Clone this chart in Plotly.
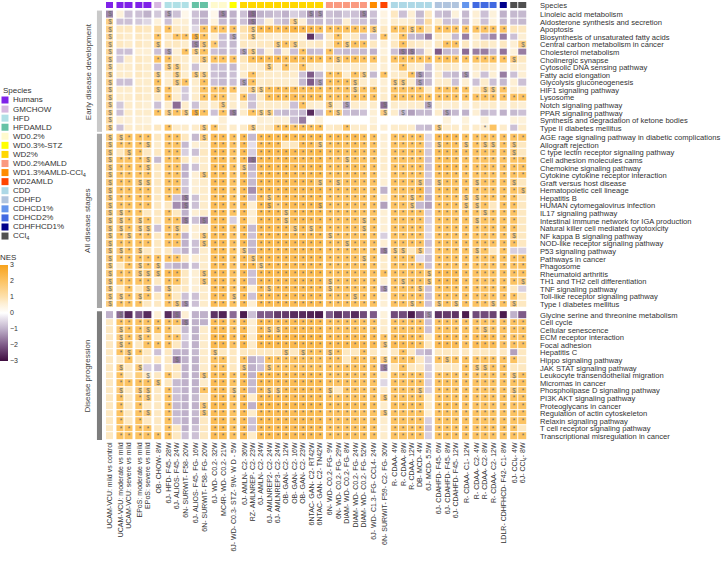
import plotly.graph_objects as go

# especies y sus colores
species = ["Humans", "GMCHOW", "HFD", "HFDAMLD", "WD0.2%", "WD0.3%-STZ", "WD2%", "WD0.2%AMLD",
           "WD1.3%AMLD-CCl<sub>4</sub>", "WD2AMLD", "CDD", "CDHFD", "CDHCD1%", "CDHCD2%",
           "CDHFHCD1%", "CCl<sub>4</sub>"]
species_colors = ["#7f22e8", "#d6b8e0", "#b0e0e6", "#66c2a5", "#fffacd", "#ffff00", "#ffd700",
                  "#fa9a80", "#ff8c00", "#ff4500", "#add8e6", "#b0c4de", "#6495ed", "#4169e1",
                  "#00008b", "#505050"]

# bloques de columnas (especie de cada bloque y cuantas columnas tiene)
group_species = [0, 0, 0, 1, 2, 3, 4, 5, 6, 7, 8, 9, 10, 11, 12, 13, 14, 15]
group_sizes = [1, 2, 2, 1, 3, 2, 2, 1, 10, 5, 1, 1, 5, 3, 1, 3, 1, 2]

columns = ["UCAM-VCU: mild vs control", "UCAM-VCU: moderate vs mild", "UCAM-VCU: severe vs mild",
           "EPoS: moderate vs mild", "EPoS: severe vs mild", "OB- CHOW- 8W",
           "6J- HFD- F45- 28W", "6J- ALIOS- F45- 24W", "6N- SURWIT- F58- 20W",
           "6J- ALIOS- F45- FG- 16W", "6N- SURWIT- F58- FG- 20W",
           "6J- WD- C0.2- 32W", "MC4R- WD- C0.2- 21W", "6J- WD- C0.3- STZ- 9W- W D - 5W",
           "6J- AMLN- C2- 36W", "RZ- AMLNREP- C2- 23W", "6J- AMLN- C2- 24W", "6J- AMLNREP2- C2- 24W",
           "6J- AMLNREP3- C2- 24W", "OB- GAN- C2- 12W", "OB- GAN- C2- 16W", "OB- GAN- C2- 23W",
           "6NTAC- GAN- C2- RT42W", "6NTAC- GAN- C2- TN42W",
           "6N- WD- C0.2- FG- 9W", "6N- WD- C0.2- FG- 29W", "DIAM- WD- C0.2- FG- 8W",
           "DIAM- WD- C0.2- FG- 24W", "DIAM- WD- C0.2- FG- 52W",
           "6J- WD- C1.3- FG- CCL4- 24W", "6N- SURWIT- F59- C2- FG- 30W",
           "R- CDAA- 4W", "R- CDAA- 8W", "R- CDAA- 12W", "DB- MCD- 4W", "6J- MCD- 5.5W",
           "6J- CDAHFD- F45- 6W", "6J- CDAHFD- F45- 8W", "6J- CDAHFD- F45- 12W",
           "R- CDAA- C1- 12W", "R- CDAA- C2- 4W", "R- CDAA- C2- 8W", "R- CDAA- C2- 12W",
           "LDLR- CDHFHCD- F42- C1- 8W", "6J- CCl<sub>4</sub>- 4W", "6J- CCl<sub>4</sub>- 8W"]

section_names = ["Early disease development", "All disease stages", "Disease progression"]
section_colors = ["#c9c9c9", "#a6a6a6", "#7d7d7d"]

early_rows = ["Linoleic acid metabolism", "Aldosterone synthesis and secretion", "Apoptosis",
              "Biosynthesis of unsaturated fatty acids", "Central carbon metabolism in cancer",
              "Cholesterol metabolism", "Cholinergic synapse", "Cytosolic DNA sensing pathway",
              "Fatty acid elongation", "Glycolysis gluconeogenesis", "HIF1 signaling pathway",
              "Lysosome", "Notch signaling pathway", "PPAR signaling pathway",
              "Synthesis and degradation of ketone bodies", "Type II diabetes mellitus"]

early_nes = [
    [-1.5, 0.5, -0.8, -0.8, -1.0, -0.7, -1.2, -0.8, 0.3, -0.8, -1.0, 0.3, -1.5, -1.0, -0.8, -1.8, -1.0, -0.9, -0.8, -1.0, -0.6, -0.8, -1.4, -1.3, -0.8, -0.9, -0.7, -0.8, -1.5, -0.8, 0.4, 0.8, -0.8, 0.6, -0.9, 0.8, -0.8, -0.9, 0.5, -0.9, 0.6, -0.8, 0.5, -1.0, -0.9, -0.9],
    [1.5, -0.8, -0.8, -0.7, -0.5, 0.5, -0.8, 0.6, 0.6, -0.8, -1.0, 0.5, -0.9, -1.0, -0.8, -1.6, -0.6, 0.6, -0.7, -0.9, 1.5, 0.6, -0.9, -0.9, -0.8, -0.8, 0.6, -0.7, -0.8, -0.9, 0.5, 0.7, 0.6, 0.7, -0.8, 1.2, 0.7, -0.8, -0.7, -0.9, 0.6, -0.8, 0.5, -0.9, -0.8, -0.9],
    [1.5, 0.8, 0.8, 0.9, 0.8, 1.2, 2.0, 0.8, 0.7, -0.5, 2.0, 2.0, 2.0, 2.0, 1.0, 1.6, 2.2, 2.3, 2.1, 2.2, 2.4, 2.2, 2.3, 2.1, 2.0, 2.1, 2.0, 2.1, 2.0, 1.8, 0.8, 2.0, 2.0, 1.7, 2.0, 1.0, 2.0, 2.0, 2.0, 2.0, 2.0, 2.0, 2.0, 2.0, 0.9, 0.8],
    [1.4, 0.8, 0.7, 0.8, 0.7, 2.0, 0.8, 2.0, 2.0, 2.6, 2.0, 0.6, -0.8, -1.2, 0.8, 1.6, 0.8, 0.7, 0.6, 0.8, 0.7, 0.5, -2.5, -0.9, 0.8, 2.0, 0.7, 0.8, -0.8, -0.7, 2.0, 0.7, 2.0, -0.9, -1.0, -1.6, 0.8, 0.6, -0.9, -1.6, 0.7, -1.0, -1.5, -1.6, -0.8, 0.6],
    [1.4, 0.8, 0.7, 0.8, 0.7, 1.6, 0.8, 0.8, 0.7, -1.5, 1.7, 1.8, -0.8, -0.9, 0.8, 0.7, 0.8, 0.8, 1.6, 2.0, 1.6, 0.8, 0.7, 0.8, 0.8, 2.0, 1.6, 2.0, 2.0, 0.8, 0.6, 0.8, 2.0, 0.8, 0.7, 0.6, 0.8, 2.0, 2.0, 0.8, 0.7, 0.8, 0.7, 0.8, 0.6, 1.6],
    [1.3, -0.8, -0.8, 0.6, 0.6, -0.8, -1.2, 0.6, 2.0, 1.6, 2.0, -0.8, -0.9, -0.8, -1.2, 1.6, -0.8, 0.6, -0.8, 0.6, -0.8, 2.0, -0.9, -0.8, 2.0, -0.8, -0.9, -0.8, -0.9, -1.0, 0.5, -0.8, -1.6, -1.6, -0.9, 0.6, -2.0, -0.9, -0.8, -1.8, -1.6, -1.6, -0.9, -1.7, 0.5, -1.6],
    [1.4, -0.7, 0.7, 0.8, 0.7, 2.0, 2.0, 0.8, 0.7, 0.8, 1.7, 2.0, 2.0, 2.0, 0.9, 2.1, 2.2, 2.1, 2.3, 2.1, 2.2, 2.1, 2.2, 2.1, 2.0, 1.7, 2.0, 2.1, 2.0, 2.0, 0.7, 2.0, 2.1, 2.0, 2.0, 2.0, 2.0, 2.1, 2.0, 2.0, 2.0, 2.0, 2.1, 2.0, 1.7, 0.8],
    [1.3, 0.7, 0.7, 0.8, 0.7, -0.8, 1.6, 1.6, 0.7, -0.8, 0.6, -0.8, -0.8, -0.9, 0.7, 0.6, 0.7, 1.6, 0.7, 2.0, 0.8, 2.0, 0.7, 0.6, 0.7, 0.8, 0.6, 0.7, 0.8, 0.7, 0.6, 0.7, 2.0, 0.7, 0.6, -0.8, 0.7, 0.8, 0.7, 0.6, 0.7, 0.8, 0.7, 0.6, 0.7, 0.6],
    [1.4, 0.7, 0.7, 0.8, 0.7, 1.6, 0.7, 1.6, 0.7, 1.7, 1.6, -0.8, -0.9, -0.8, 0.7, 2.0, 0.8, 0.7, 0.7, 0.8, 0.7, -0.8, -2.0, -0.9, 2.0, 2.0, 0.7, 2.0, 1.6, -0.9, 2.0, 0.7, 0.8, 2.0, -1.3, -0.9, 0.7, -0.8, -0.9, -1.3, 0.6, -0.8, 0.6, -1.6, -0.8, 0.6],
    [1.4, -0.8, -0.8, 0.7, 0.7, 2.0, 0.7, 1.6, 2.0, 0.7, 2.0, -0.8, -0.9, -0.8, -1.2, 2.0, 0.7, 0.8, 0.7, 0.7, 0.6, -0.9, -2.0, -1.2, 2.0, 2.0, 2.0, 1.6, 0.7, 0.7, 0.6, 1.6, 1.6, 0.7, -1.2, -0.9, 0.7, 0.7, -0.8, 0.6, -0.8, 0.7, -0.8, -0.9, 0.6, -0.8],
    [1.4, 0.7, 0.7, 0.8, 0.7, 1.6, 2.0, 0.7, -0.7, 0.7, 2.0, 2.0, 2.0, 2.0, 0.8, 1.6, 1.6, 2.1, 2.2, 2.1, 2.2, 2.1, 2.2, 2.1, 2.0, 2.0, 2.0, 1.6, 2.0, 2.0, 0.7, 2.0, 2.0, 2.0, 2.0, 0.7, 2.0, 2.0, 2.0, 2.0, 0.7, 1.6, 1.6, 2.0, 0.7, 0.6],
    [1.4, 0.7, 0.7, 0.8, 0.7, 0.8, 2.0, 0.7, -0.7, 0.7, 2.0, 2.0, 2.0, 0.8, 2.0, -0.8, 0.8, 2.1, 2.2, 2.1, 2.2, 2.1, 2.2, 2.1, 2.0, 2.0, 2.0, 2.0, 2.0, 2.0, 0.7, 2.0, 2.0, 2.0, 2.0, 2.0, 2.0, 2.0, 2.0, 2.0, 2.0, 2.0, 2.0, 2.0, 2.0, 2.0],
    [1.3, -0.7, 0.7, 0.7, 0.6, -0.8, 0.7, -1.8, 0.7, -0.8, 0.7, 0.7, 1.6, 0.7, 0.7, -0.8, 0.7, 0.7, 0.7, 0.7, -0.8, 2.0, 0.7, 0.6, 1.6, 0.7, -1.2, 0.7, 0.6, 0.7, -1.8, 0.7, 0.6, 0.7, 0.7, -1.2, 0.7, 0.6, 0.7, 0.6, 0.7, 0.6, 0.7, 0.6, 0.7, 0.6],
    [1.4, -0.8, 0.7, 0.7, 0.7, 2.0, 1.6, 2.0, 1.7, 2.6, 2.0, -0.8, 2.0, -1.6, 0.7, 2.0, 1.6, 1.6, -0.8, -0.9, -0.8, -0.9, -2.6, -0.9, 2.0, 1.6, -0.8, -0.9, -0.8, 0.6, 1.6, 0.7, -0.8, -1.2, -0.9, -0.9, 0.7, -1.2, -0.9, -1.0, 0.6, -0.9, -0.8, -1.0, -0.9, -0.8],
    [1.2, 0.6, 0.6, 0.6, 0.5, 0.0, 0.0, 0.0, 0.0, 0.0, 0.0, 0.0, 0.6, 0.0, 0.0, 0.0, 0.6, 0.5, 0.6, 0.5, -0.8, -1.6, 0.0, 0.5, 0.0, 0.0, 0.0, 0.0, 0.0, 0.5, 0.0, 0.0, 0.0, 0.0, 0.0, 0.0, 0.0, 0.5, 0.0, 0.5, 0.0, 0.5, 0.0, 0.0, 0.5, 0.5],
    [1.4, -0.8, 0.7, 0.7, 0.7, 0.8, 2.0, 0.7, 0.7, 0.7, 1.6, 2.0, 0.7, 0.7, 0.7, 1.6, 0.7, 0.8, 2.0, 2.1, 2.0, 2.1, 2.0, 2.1, 0.7, 0.8, 2.0, 0.7, 0.7, 0.7, 0.6, 0.7, 0.7, 0.7, -0.8, -0.9, 1.6, 0.7, 0.7, 0.7, 0.7, 0.7, 2.0, 0.7, -0.8, 0.7],
]
# marcas de significancia, separadas por bloque de columnas
early_sig = [
    "$|  |  | |$  |  | $| | $      $$|    $| | |     |   | |   | |  ",
    "$|  |  | |   |  |  | | $    $   |     | | |     |   | |   | |  ",
    "$|  |  | |*  | *|**|*| $********|*****|$| |**$* |***|*|***|*|  ",
    "$|  |  |*| **|$*|  |$| $        | *   | |*| *   |   | |   | |  ",
    "$|  |  |$|   |$$|* | |    $*$   | *$**| | | *   | **| |   | | $",
    "$|  |  | |$ *|$*|  | |$$     *  |*    | | | $$  |   | |   | |  ",
    "$|  |  |*|*  | $|**|*| *********|*$***|*| |*****|***|*|***|*|$ ",
    "$|  |  | |$$ |  |  | |   $ * *  |     | | | *   |   | |   | |  ",
    "$|  |  |$| $ |$$|  | | *        |** *$| |*|  *$ |   |$|   | |  ",
    "$|  |  |*| $*| *|  | |$*       $|***$ | | |$$ $ |   | |   | |  ",
    "$|  |  |$|*  | *|**|*| $$*******|***$*|*| |**** |***|*| $$|*|  ",
    "$|  |  | |*  | *|**| |*  *******|*****|*| |*****|***|*|***|*|**",
    "$|  |  | |   |  | $| |       *  |$ $  | |$|    $|   | |   | |  ",
    "$|  |  |*|$*$|$*| *|$| *$$      |*$   | |$| $   | $ | |   | |  ",
    "$|  |  | |   |  |  | |          |     | | |     |   | |   | |  ",
    "$|  |  | |*  | $|* | | $  ******|  *  | | |     |$  | | * | |  ",
]

all_rows = ["AGE rage signaling pathway in diabetic complications", "Allograft rejection",
            "C type lectin receptor signaling pathway", "Cell adhesion molecules cams",
            "Chemokine signaling pathway", "Cytokine cytokine receptor interaction",
            "Graft versus host disease", "Hematopoietic cell lineage", "Hepatitis B",
            "HUMAN cytomegalovirus infection", "IL17 signaling pathway",
            "Intestinal immune network for IGA production", "Natural killer cell mediated cytotoxicity",
            "NF kappa B signaling pathway", "NOD-like receptor signaling pathway",
            "P53 signaling pathway", "Pathways in cancer", "Phagosome", "Rheumatoid arthritis",
            "TH1 and TH2 cell differentiation", "TNF signaling pathway",
            "Toll-like receptor signaling pathway", "Type I diabetes mellitus"]

all_nes = [
    [1.6, 1.7, 2.0, 2.0, 2.0, 0.8, 2.0, 2.0, 0.8, -0.9, 1.7, 2.2, 2.2, 2.0, 2.2, -0.9, 2.2, 2.3, 2.2, 2.3, 2.2, 2.3, 2.2, 2.3, 2.1, 2.2, 2.1, 2.2, 2.1, 2.0, 0.6, 2.0, 2.0, 2.0, 2.0, -0.5, 2.2, 2.2, 2.2, 2.0, 2.0, 2.0, 2.0, 2.0, 2.0, 2.0],
    [1.6, 2.0, 2.0, 2.0, 1.7, 0.7, 2.0, 2.0, -0.9, 0.6, 0.7, 2.2, 2.2, 2.0, 2.2, -0.4, 2.2, 2.2, 2.2, 0.8, 0.8, 2.2, 2.2, 1.7, 2.0, 2.1, 2.0, 2.1, 2.0, 2.0, 0.6, 2.0, 2.0, 2.0, 2.0, -0.6, 1.7, 2.1, 2.1, 1.7, 2.0, 1.7, 1.7, 2.0, 1.7, 0.8],
    [1.6, 0.8, 1.7, 2.0, 0.8, 0.8, 2.0, 2.0, -0.6, -0.8, 0.8, 2.2, 2.2, 2.0, 2.2, -0.6, 2.2, 2.3, 2.2, 2.3, 2.2, 2.2, 2.2, 2.3, 2.0, 2.1, 2.0, 2.1, 2.0, 2.0, 0.7, 2.0, 2.0, 2.0, 2.0, -0.7, 2.1, 2.1, 2.1, 2.0, 2.0, 2.0, 2.0, 2.0, 1.7, 0.8],
    [1.6, 2.0, 2.0, 2.0, 1.7, -0.9, 2.0, 2.0, 0.8, 0.6, 0.7, 2.2, 2.2, 2.0, 2.2, -1.8, 2.2, 2.3, 2.2, 2.3, 2.2, 2.2, 2.2, 2.3, 2.0, 2.0, 1.7, 2.0, 2.0, 2.0, 0.7, 2.0, 2.0, 2.0, 2.0, -0.8, 2.1, 2.1, 2.1, 2.0, 2.0, 2.0, 2.0, 2.0, 2.0, 2.0],
    [1.6, 2.0, 2.0, 2.0, 1.7, 0.8, 2.0, 2.0, -1.0, -0.8, 0.7, 2.2, 2.2, 2.0, 1.7, -1.0, 2.2, 2.3, 2.2, 2.3, 2.2, 2.2, 2.2, 2.3, 2.0, 2.1, 2.0, 2.1, 2.0, 2.0, 0.7, 2.0, 2.0, 2.0, 2.0, -0.8, 2.2, 2.2, 2.2, 2.0, 2.0, 2.0, 2.0, 2.0, 2.0, 2.0],
    [1.6, 2.0, 2.0, 2.0, 2.0, 0.8, 2.0, 2.0, -1.0, 0.6, 1.7, 2.2, 2.2, 2.0, 2.2, -0.8, 2.2, 2.3, 2.2, 2.3, 2.2, 2.2, 2.2, 2.3, 2.0, 2.1, 2.0, 2.1, 2.0, 2.0, 0.6, 2.0, 2.0, 2.0, 2.0, -0.7, 2.1, 2.1, 2.1, 2.0, 2.0, 2.0, 2.0, 2.0, 2.0, 2.0],
    [1.6, 2.0, 2.0, 1.7, 1.7, 0.8, 2.0, 2.0, -0.7, 0.6, 0.7, 2.2, 2.2, 2.0, 2.2, -0.9, 2.2, 2.2, 2.2, 2.2, 2.2, 2.2, 2.2, 1.7, 2.0, 1.7, 2.0, 2.0, 2.0, 2.0, 0.6, 2.0, 2.0, 2.0, 1.7, -0.8, 1.7, 2.0, 2.0, 2.0, 1.7, 2.0, 2.0, 2.0, 1.7, 0.8],
    [1.6, 2.0, 2.0, 2.0, 2.0, 0.8, 2.0, 2.0, -0.8, 0.6, 0.7, 2.2, 2.2, 2.0, 2.2, -1.4, 2.2, 2.3, 2.2, 2.3, 2.2, 2.2, 2.2, 2.3, 2.0, 2.1, 2.0, 2.1, 2.0, 2.0, -1.0, 2.0, 2.0, 2.0, 2.4, -0.8, 2.1, 2.1, 2.1, 2.0, 2.0, 2.0, 2.0, 2.0, 2.0, 1.7],
    [1.6, 2.0, 2.0, 2.0, 2.0, 0.8, 2.0, -0.8, -1.6, -0.8, 0.7, 2.2, 2.2, 2.0, 2.2, -0.8, 2.2, 1.7, 2.2, 2.2, 2.2, 2.2, 2.2, 2.2, 2.0, 2.0, 2.0, 2.0, 2.0, 2.0, 0.7, 2.0, 2.0, 1.7, 2.0, -1.0, 2.0, 2.0, 2.0, 1.7, 1.7, 2.0, 2.0, 2.0, 2.0, 0.8],
    [1.6, 2.0, 2.0, 2.0, 2.0, 0.8, 0.8, -1.4, -1.6, -0.8, 0.7, 2.2, 2.2, 2.0, 2.2, 0.6, 2.2, 2.2, 1.7, 2.2, 2.2, 2.2, 2.2, 2.2, 2.0, 2.0, 2.0, 2.0, 2.0, 2.0, -1.2, 2.0, 2.0, 1.7, -0.9, -1.2, 2.0, 2.0, 2.0, 1.7, 1.7, 2.0, 0.8, 2.0, 2.0, 0.8],
    [1.6, 1.7, 2.0, 2.0, 0.8, 0.8, 2.0, 0.8, -1.0, 0.6, 0.7, 2.2, 2.2, 2.0, 2.2, 0.6, 2.2, 2.2, 2.2, 1.7, 2.2, 2.2, 2.2, 2.2, 2.0, 2.0, 2.0, 2.0, 2.0, 2.0, 0.6, 2.0, 2.0, 2.0, 2.0, -0.6, 2.0, 2.0, 2.0, 2.0, 2.0, 1.7, 2.0, 2.0, 2.0, 0.8],
    [1.6, 1.7, 2.0, 1.7, 2.0, 0.8, 2.0, 2.0, -1.6, -0.8, -1.6, 2.2, 2.2, -0.6, 2.2, 0.6, 2.2, 2.2, 2.2, 1.7, 2.2, 2.2, 2.2, 2.2, 2.0, 2.0, 2.0, 2.0, 1.7, 2.0, 0.6, 2.0, 2.0, 2.0, 2.0, -0.6, 2.0, 2.0, 2.0, 2.0, 1.7, 2.0, 2.0, 2.0, 2.0, 0.8],
    [1.6, 1.7, 2.0, 1.7, 1.7, -0.8, 2.0, 1.7, 0.8, 0.6, 0.7, 2.2, 2.2, 2.0, 2.2, -0.9, 2.2, 2.2, 2.2, 2.2, 1.7, 2.2, 1.7, 2.2, 2.0, 2.0, 2.0, 2.0, 1.7, 2.0, 0.6, 2.0, 2.0, 2.0, 2.0, -0.5, 2.0, 2.0, 2.0, 2.0, 2.0, 2.0, 2.0, 2.0, 2.0, 0.8],
    [1.6, 2.0, 1.7, 2.0, 2.0, 0.8, 2.0, 2.0, -1.0, 0.6, 1.7, 2.2, 2.2, 2.0, 2.2, -0.8, 2.2, 2.2, 2.2, 2.2, 2.2, 2.2, 2.2, 2.2, 1.7, 2.0, 2.0, 2.0, 2.0, 2.0, -0.6, 2.0, 2.0, 2.0, 2.0, -0.5, 2.0, 2.0, 2.0, 2.0, 2.0, 2.0, 2.0, 2.0, 1.7, 0.8],
    [1.6, 2.0, 2.0, 2.0, 2.0, 0.8, 2.0, 2.0, -1.0, -0.8, 1.7, 2.2, 2.2, 2.0, 2.2, -0.9, 2.2, 2.2, 2.2, 2.2, 2.2, 2.2, 2.2, 2.2, 2.0, 2.0, 1.7, 2.0, 2.0, 2.0, 0.6, 2.0, 2.0, 2.0, 2.0, -0.8, 2.0, 2.0, 2.0, 2.0, 2.0, 2.0, 2.0, 2.0, 2.0, 0.8],
    [1.6, 1.7, 2.0, 1.7, 0.8, 0.8, 0.8, -0.6, -1.0, -0.8, 0.7, 2.2, 2.2, 2.0, 1.7, -1.0, 2.2, 2.2, 2.2, 2.2, 2.2, 2.2, 2.2, 2.2, 2.0, 2.0, 2.0, 2.0, 2.0, 2.0, -1.6, 1.7, 1.7, 0.8, 1.7, -0.6, 2.0, 2.0, 2.0, 2.0, 1.7, 2.0, 0.8, 2.0, -0.6, -0.6],
    [1.6, 2.0, 2.0, 2.0, 2.0, 2.0, 2.0, 2.0, 0.8, 0.6, 0.7, 2.2, 2.2, 2.0, 2.2, 1.7, 2.2, 2.2, 2.2, 2.2, 2.2, 2.2, 2.2, 2.2, 2.0, 2.0, 2.0, 2.0, 1.7, 2.0, 0.7, 2.0, 2.0, 2.0, -0.4, -0.8, 2.0, 2.0, 2.0, 2.0, 2.0, 2.0, 2.0, 2.0, 2.0, 2.0],
    [1.6, 0.8, 2.0, 1.7, 2.0, 1.7, -0.8, -1.0, -1.0, -0.8, 0.7, 2.2, 2.2, 2.0, 2.2, 2.2, 1.7, 2.2, 2.2, 2.2, 2.2, 2.2, 2.2, 2.2, 2.0, 2.0, 2.0, 2.0, 2.0, 2.0, 0.7, 2.0, 2.0, 2.0, 2.0, -0.8, 2.0, 2.0, 2.0, 2.0, 2.0, 2.0, 2.0, 2.0, 2.0, 2.0],
    [1.6, 2.0, 2.0, 1.7, 1.7, 1.7, 2.2, 2.2, 0.8, 0.6, 1.7, 2.2, 2.2, 2.0, 2.2, -0.8, 2.2, 2.3, 2.2, 2.3, 2.2, 2.2, 2.2, 2.3, 2.0, 2.0, 2.0, 2.0, 2.0, 2.0, 2.0, 2.0, 2.0, 2.0, 2.0, 1.7, 2.2, 2.2, 2.2, 2.0, 2.0, 2.0, 2.0, 2.0, 2.0, 2.0],
    [1.6, 2.0, 2.0, 2.0, 2.0, 0.8, 2.0, 2.0, 0.8, 0.6, 1.7, 2.2, 2.2, 2.0, 2.2, -0.8, 2.2, 2.2, 2.2, 2.2, 2.2, 2.2, 2.2, 2.2, 1.7, 2.0, 2.0, 2.0, 2.0, 2.0, 0.6, 2.0, 1.7, 2.0, 2.0, 1.7, 2.2, 2.2, 2.2, 2.0, 2.0, 2.0, 2.0, 2.0, 2.0, 1.7],
    [1.6, 0.8, 2.0, 0.8, 1.7, -0.8, 1.7, 0.8, 0.8, 0.6, 0.7, 2.2, 2.2, 2.0, 2.2, 0.6, 2.2, 1.7, 2.2, 2.2, 2.2, 2.2, 2.2, 2.2, 1.7, 2.0, 2.0, 2.0, 2.0, 2.0, -1.4, 2.0, 2.0, 2.0, 1.7, -0.8, 2.0, 2.0, 2.0, 2.0, 2.0, 2.0, 2.0, 2.0, 0.8, -0.6],
    [1.6, 1.7, 2.0, 1.7, 2.0, 0.8, 2.0, 0.8, -0.8, -0.8, 0.7, 2.2, 2.2, 1.7, 2.2, -0.8, 2.2, 2.2, 2.2, 2.2, 2.2, 2.2, 2.2, 2.2, 2.0, 2.0, 2.0, 1.7, 2.0, 2.0, 0.6, 2.0, 2.0, 2.0, 2.0, -0.8, 2.0, 2.0, 2.0, 2.0, 2.0, 2.0, 2.0, 2.0, 2.0, 0.8],
    [1.6, 2.0, 2.0, 2.0, 0.8, 0.8, 2.0, 1.7, -1.4, -0.8, 0.7, 2.2, 2.2, 2.0, 2.2, 0.6, 2.2, 2.2, 2.2, 2.2, 2.2, 2.2, 2.2, 2.2, 2.0, 2.0, 2.0, 2.0, 2.0, 2.0, 0.6, 2.0, 2.0, 1.7, 2.0, -0.8, 1.7, 2.0, 1.7, 2.0, 2.0, 2.0, 1.7, 2.0, 1.7, 0.8],
]
all_sig = [
    "$|$*|**| |** | $|**|*|* ********|*****|*| |**** |***|*|***|*|**",
    "$|**|*$| |** |  |**|*|* ***  **$|*****|*| |**** |$**|$|*$$|*|$ ",
    "$| $|* | |** |  |**|*|* ********|*****|*| |**** |***|*|***|*|$ ",
    "$|**|*$| |** |  |**|*|*$********|**$**|*| |**** |***|*|***|*|**",
    "$|**|*$| |** |  |**|*|$ ********|*****|*| |**** |***|*|***|*|**",
    "$|**|**| |** | $|**|*|* ********|*****|*| |**** |***|*|***|*|**",
    "$|**|$$| |** |  |**|*|* *******$|*$***|*| |***$ |$**|*|$**|*|$ ",
    "$|**|**| |** |  |**|*|* ********|*****|*| |**** |***|*|***|*|*$",
    "$|**|**| |* $|  |**|*|* *$******|*****|*| |**$* |***|$|$**|*|* ",
    "$|**|**| |  $|  |**|*|* *$*****$|*****|*| |**$  |***|$|$* |*|* ",
    "$|$*|* | |*  |  |**|*|* ***$****|*****|*| |**** |***|*|*$*|*|* ",
    "$|$*|$*| |**$| $|**| |* ***$****|****$|*| |**** |***|*|$**|*|* ",
    "$|$*|$$| |*$ |  |**|*|* ****$*$*|****$|*| |**** |***|*|***|*|* ",
    "$|*$|**| |** | $|**|*|* ********|$****|*| |**** |***|*|***|*|$ ",
    "$|**|**| |** | $|**|*|* ********|**$**|*| |**** |***|*|***|*|* ",
    "$|$*|$ | |   |  |**|*|$ ********|*****|*|$|$$ $ |***|*|$* |*|  ",
    "$|**|**|*|** |  |**|*|*$********|****$|*| |***  |***|*|***|*|**",
    "$| *|$*|$|   |  |**|*|**$*******|*****|*| |**** |***|*|***|*|**",
    "$|**|$$|$|** | $|**|*|* ********|*****|*|*|****$|***|*|***|*|**",
    "$|**|**| |** | $|**|*|* ********|$****|*| |*$**$|***|*|***|*|*$",
    "$| *| $| |$  |  |**|*|* *$******|$****|*|$|***$ |***|*|***|*|  ",
    "$|$*|$*| |*  |  |**|$|* ********|***$*|*| |**** |***|*|***|*|* ",
    "$|**|* | |*$$|  |**|*|* ********|*****|*| |**$* |$*$|*|**$|*|$ ",
]

prog_rows = ["Glycine serine and threonine metabolism", "Cell cycle", "Cellular senescence",
             "ECM receptor interaction", "Focal adhesion", "Hepatitis C", "Hippo signaling pathway",
             "JAK STAT signaling pathway", "Leukocyte transendothelial migration",
             "Micromas in cancer", "Phospholipase D signaling pathway", "PI3K AKT signaling pathway",
             "Proteoglycans in cancer", "Regulation of actin cytoskeleton",
             "Relaxin signaling pathway", "T cell receptor signaling pathway",
             "Transcriptional misregulation in cancer"]

prog_nes = [
    [-1.0, -1.8, -2.6, -2.0, -2.6, 0.6, -2.6, -1.8, 0.6, -1.0, -1.0, -2.5, -2.7, -1.8, -2.8, -0.8, -2.0, -2.0, -2.4, -2.4, -2.6, -2.6, -2.7, -2.8, -2.0, -2.5, -2.2, -2.6, -2.2, -2.0, 0.5, -2.2, -2.2, -2.8, -2.0, -1.4, -2.5, -2.4, -2.5, -2.8, -2.2, -2.2, -2.3, -2.8, -1.0, -2.0],
    [0.8, 2.0, 2.0, 2.0, 2.0, 2.0, 2.0, 2.0, -1.6, -1.0, -1.0, 2.2, 2.2, 2.0, 2.2, 0.6, 2.2, 2.2, 2.2, 2.2, 2.2, 2.2, 2.2, 2.2, 2.0, 2.0, 2.0, 2.0, 2.0, 2.0, 0.7, 2.0, 2.0, 2.0, 2.0, -0.8, 2.0, 2.0, 2.0, 2.0, 2.0, 2.0, 2.0, 2.0, 2.0, 2.0],
    [0.8, 1.7, 2.0, 2.0, 1.7, 2.0, 2.0, 0.8, -0.9, -1.0, 0.7, 2.2, 2.2, 2.0, 2.2, 0.6, 2.2, 1.7, 1.7, 2.2, 2.2, 2.2, 2.2, 2.2, 2.0, 2.0, 2.0, 2.0, 2.0, 2.0, 0.7, 2.0, 2.0, 2.0, 2.0, -0.8, 2.0, 2.0, 2.0, 2.0, 2.0, 1.7, 2.0, 2.0, 2.0, 2.0],
    [0.8, 1.7, 2.0, 1.7, 2.0, 0.8, 2.0, 2.0, -0.6, -1.0, 0.7, 2.4, 2.4, 2.2, 2.4, 0.7, 2.4, 2.4, 2.4, 2.4, 2.4, 2.4, 2.4, 2.4, 2.2, 2.2, 2.2, 2.2, 2.2, 2.2, 2.0, 2.2, 2.2, 2.2, 2.0, 0.8, 2.2, 2.2, 2.2, 2.0, 2.2, 2.2, 2.2, 2.0, 2.0, 2.0],
    [0.8, 1.7, 2.0, 0.8, 2.0, 2.0, 2.0, 0.8, -0.8, -1.0, 0.7, 2.3, 2.3, 2.0, 2.3, 0.7, 2.3, 2.3, 2.3, 2.3, 2.3, 2.3, 2.3, 2.3, 2.2, 2.2, 2.2, 2.2, 2.2, 2.2, 1.7, 2.2, 2.2, 2.2, 2.0, 0.8, 2.2, 2.2, 2.2, 2.0, 2.2, 2.2, 2.2, 2.0, 2.0, 2.0],
    [0.8, 2.0, 1.7, 2.0, 0.8, -0.8, 0.8, -1.0, -1.0, -0.9, 0.7, 1.7, 0.8, 0.8, 0.8, 0.8, 0.8, 0.8, 0.8, 1.7, 0.8, 1.7, 2.0, 2.0, 1.7, 2.0, 0.8, 0.8, 2.0, 0.8, 0.6, 0.8, 2.0, 0.8, -0.8, -1.0, 0.8, 0.8, 0.8, 0.8, 0.8, 0.8, 0.8, 0.8, -1.2, 0.8],
    [0.8, 0.8, 2.0, 0.8, 0.8, 0.8, 0.8, -1.6, -1.0, -1.0, 0.7, 2.0, 2.0, 0.8, 2.0, -1.0, -0.8, 2.0, 2.0, 2.0, 2.0, 2.0, 2.0, 2.0, 2.0, 2.0, 0.8, 2.0, 2.0, 2.0, 1.7, 2.0, 2.0, 2.0, 0.8, -0.6, 2.0, 1.7, 2.0, 2.0, 2.0, 2.0, 2.0, 2.0, 2.0, 0.8],
    [0.8, 1.7, 0.8, 1.7, -0.6, -0.8, 0.8, 0.8, -1.0, -1.0, 0.7, 2.0, 2.0, 0.8, 1.7, -1.0, -0.8, 1.7, 2.0, 2.0, 2.0, 2.0, 2.0, 2.0, 2.0, 2.0, 2.0, 2.0, 2.0, 2.0, -1.6, 0.8, 2.0, 0.8, 0.8, -0.6, 0.8, 0.8, 0.8, 2.0, 1.7, 1.7, 2.0, 2.0, 0.8, 0.8],
    [0.8, 2.0, 0.8, 1.7, 0.8, 0.8, 2.0, 0.8, -1.0, -1.0, 1.7, 2.2, 2.2, 2.0, 2.2, -1.0, 2.2, 2.2, 2.2, 2.2, 2.2, 2.2, 2.2, 2.2, 2.0, 2.0, 2.0, 2.0, 2.0, 2.0, 0.7, 2.0, 2.0, 2.0, 2.0, -0.6, 2.0, 2.0, 2.0, 2.0, 2.0, 2.0, 2.0, 2.0, 1.7, 2.0],
    [0.8, 2.0, 2.0, 2.0, 2.0, 1.7, 0.8, -0.9, -1.0, -1.0, 0.7, 2.2, 2.2, 2.0, 2.2, -0.9, 2.2, 2.2, 2.2, 2.2, 2.2, 2.2, 2.2, 2.2, 2.0, 2.0, 2.0, 2.0, 2.0, 2.0, -0.5, 2.0, 2.0, 2.0, 2.0, -0.6, 2.0, 2.0, 2.0, 2.0, 2.0, 2.0, 2.0, 2.0, 2.0, 2.0],
    [0.8, 1.7, 0.8, 1.7, 1.7, 0.8, 2.0, -0.8, -1.0, -1.0, 2.0, 2.2, 2.2, 1.7, 2.2, -0.9, 2.2, 1.7, 1.7, 2.2, 2.2, 2.2, 2.2, 2.2, 1.7, 0.8, 2.0, 2.0, 2.0, 2.0, 0.7, 2.0, 2.0, 2.0, 1.7, -0.6, 2.0, 2.0, 2.0, 2.0, 2.0, 2.0, 2.0, 2.0, 1.7, 2.0],
    [0.8, 2.0, 0.8, 2.0, 1.7, 0.8, 2.0, -0.8, -1.0, -0.9, 0.8, 2.2, 2.2, 2.0, 2.2, 0.7, 2.2, 2.2, 2.2, 2.2, 2.2, 2.2, 2.2, 2.2, 2.0, 2.0, 2.0, 2.0, 2.0, 2.0, 1.7, 2.0, 2.0, 2.0, 2.0, 0.7, 2.0, 2.0, 2.0, 2.0, 2.0, 2.0, 2.0, 2.0, 2.0, 2.0],
    [0.8, 2.0, 0.8, 2.0, 0.8, 0.8, 2.0, -0.9, -1.0, -1.0, 1.7, 2.3, 2.3, 2.0, 2.3, -1.0, 2.3, 2.3, 2.3, 2.3, 2.3, 2.3, 2.3, 2.3, 2.1, 2.1, 2.1, 2.1, 2.1, 2.1, 0.7, 2.1, 2.1, 2.1, 2.1, 0.7, 2.1, 2.1, 2.1, 2.0, 2.0, 2.0, 2.0, 2.0, 2.0, 2.0],
    [0.8, 2.0, 0.8, 2.0, 1.7, 0.8, 2.0, -0.9, -1.0, -0.9, 1.7, 2.2, 2.2, 2.0, 2.2, 0.7, 2.2, 2.2, 2.2, 2.2, 2.2, 2.2, 2.2, 2.2, 2.0, 2.0, 2.0, 2.0, 2.0, 2.0, 1.7, 2.0, 2.0, 2.0, 2.0, 0.6, 2.0, 2.0, 2.0, 2.0, 2.0, 2.0, 2.0, 2.0, 2.0, 2.0],
    [0.8, 2.0, 0.8, 2.0, 0.8, 0.8, 2.0, -0.8, -1.0, -1.0, 0.8, 2.2, 2.2, 2.0, 2.2, -0.8, 2.2, 2.2, 2.2, 2.2, 2.2, 2.2, 2.2, 2.2, 2.0, 2.0, 2.0, 2.0, 2.0, 2.0, 0.7, 2.0, 2.0, 2.0, 2.0, -0.6, 2.0, 2.0, 2.0, 2.0, 2.0, 2.0, 2.0, 2.0, 2.0, 2.0],
    [0.8, 2.0, 2.0, 2.0, 2.0, 0.8, 2.0, 0.8, -1.0, -0.8, 0.8, 2.2, 2.2, 2.0, 2.2, -0.8, 2.2, 2.2, 2.2, 2.2, 2.2, 2.2, 2.2, 2.2, 2.0, 2.0, 2.0, 2.0, 2.0, 2.0, 0.6, 2.0, 2.0, 2.0, 2.0, -0.8, 2.0, 2.0, 2.0, 2.0, 2.0, 2.0, 2.0, 2.0, 2.0, 0.8],
    [0.8, 2.0, 2.0, 2.0, 2.0, 2.0, 2.0, 0.8, -0.8, -0.8, 0.8, 2.2, 2.2, 2.0, 2.2, 0.7, 2.2, 2.2, 2.2, 2.2, 2.2, 2.2, 2.2, 2.2, 2.0, 2.0, 2.0, 2.0, 2.0, 2.0, 0.7, 2.0, 2.0, 2.0, 2.0, -0.6, 2.0, 2.0, 2.0, 2.0, 2.0, 2.0, 2.0, 2.0, 2.0, 2.0],
]
prog_sig = [
    " |$ |  | | $ |  |  | |          |     | | |    $|   | |   | |  ",
    " |**|**|*|**$|  |**|*|* ********|*****|*| |**** |***|*|***|*|**",
    " |$*|*$|*|*  |  |**|*|* *$$*****|*****|*| |**** |***|*|*$*|*|**",
    " |$*|$*| |** |  |**|*|* ********|*****|*|*|**** |***|*|***|*|**",
    " |$*| *|*|*  |  |**|*|* ********|*****|*|$|**** |***|*|***|*|**",
    " |*$|* | |   |  |$ | |     $ $**|$*  *| | | *   |   | |   | |  ",
    " | *|  | | $ |  |**| |*  *******|** **|*|$|***  |*$*|*|***|*|* ",
    " |$ |$ | |   |  |**| |$  $******|*****|*|$| *   |   |*|$$*|*|  ",
    " |* | $| |*  | $|**|*|* ********|*****|*| |**** |***|*|***|*|$*",
    " |**|**|$|   |  |**|*|* ********|*****|*| |**** |***|*|***|*|**",
    " |$ |$$| |*  | *|**|$|* *$$*****|$ ***|*| |***$ |***|*|***|*|$*",
    " |* |*$| |*  |  |**|*|* ********|*****|*|$|**** |***|*|***|*|**",
    " |* |* | |*  | $|**|*|* ********|*****|*| |**** |***|*|***|*|**",
    " |* |*$| |*  | $|**|*|* ********|*****|*|$|**** |***|*|***|*|**",
    " |* |* | |*  |  |**|*|* ********|*****|*| |**** |***|*|***|*|**",
    " |**|**| |*  |  |**|*|* ********|*****|*| |**** |***|*|***|*|* ",
    " |**|**|*|*  |  |**|*|* ********|*****|*| |**** |***|*|***|*|**",
]

sections = [(early_rows, early_nes, early_sig), (all_rows, all_nes, all_sig), (prog_rows, prog_nes, prog_sig)]

# posiciones de columnas con separacion entre bloques
GAP_X = 0.25
xpos = []
group_start = []
i = 0
for g, n in enumerate(group_sizes):
    group_start.append(i)
    for k in range(n):
        xpos.append(i + g * GAP_X)
        i += 1

# posiciones de filas con separacion entre secciones
section_offsets = [0.0, 0.25, 0.65]
ypos = []
row_names = []
section_first = []
r = 0
for s, (names, nes, sig) in enumerate(sections):
    section_first.append(r + section_offsets[s])
    for name in names:
        ypos.append(r + section_offsets[s])
        row_names.append(name)
        r += 1
species_y = -1.23

colorscale = [[0.0, "#3f0d40"], [0.1667, "#7e5a88"], [0.3333, "#bfb1ca"], [0.45, "#ebe6ef"],
              [0.5, "#ffffff"], [0.6, "#fdefd4"], [0.6667, "#fde1ae"], [0.8333, "#fcc362"],
              [1.0, "#f7a21c"]]

fig = go.Figure()

# barra superior de especies
for g, n in enumerate(group_sizes):
    c = species_colors[group_species[g]]
    fig.add_trace(go.Heatmap(z=[[1] * n], x0=xpos[group_start[g]], dx=1, y0=species_y, dy=0.8,
                             colorscale=[[0, c], [1, c]], showscale=False, xgap=1,
                             hoverinfo="skip"))

# mapa de calor NES por seccion y bloque
for s, (names, nes, sig) in enumerate(sections):
    marks = []
    for line in sig:
        parts = line.split("|")
        marks.append([ch for p, n in zip(parts, group_sizes) for ch in p.ljust(n)[:n]])
    for g, n in enumerate(group_sizes):
        a = group_start[g]
        z = [row[a:a + n] for row in nes]
        t = [[m if m != " " else "" for m in row[a:a + n]] for row in marks]
        fig.add_trace(go.Heatmap(z=z, text=t, texttemplate="%{text}",
                                 textfont=dict(size=6.5, color="#6b6b6b", family="Liberation Sans"),
                                 x0=xpos[a], dx=1, y0=section_first[s], dy=1,
                                 coloraxis="coloraxis", xgap=1, ygap=1,
                                 hovertemplate="%{z}<extra></extra>"))

shapes = []
annotations = []
# barras grises y titulos de seccion a la izquierda
for s, (names, nes, sig) in enumerate(sections):
    y0 = section_first[s] - 0.5
    y1 = section_first[s] + len(names) - 0.5
    shapes.append(dict(type="rect", xref="paper", yref="y", x0=-0.0215, x1=-0.0095, y0=y0, y1=y1,
                       fillcolor=section_colors[s], line=dict(width=0)))
    annotations.append(dict(text=section_names[s], xref="paper", yref="y", x=-0.0428,
                            xanchor="center", yanchor="middle",
                            y=(y0 + y1) / 2, textangle=-90, showarrow=False,
                            font=dict(size=8, color="#444444")))

# leyenda de especies hecha a mano
annotations.append(dict(text="Species", xref="paper", yref="paper", x=-0.2495, y=1 - (90 - 2) / 438,
                        xanchor="left", yanchor="middle", showarrow=False,
                        font=dict(size=8, color="#333333")))
for k, name in enumerate(species):
    yc = 100 + k * 9.07
    shapes.append(dict(type="rect", xref="paper", yref="paper",
                       x0=(1.5 - 106) / 421, x1=(8.5 - 106) / 421,
                       y0=1 - (yc + 3.5 - 2) / 438, y1=1 - (yc - 3.5 - 2) / 438,
                       fillcolor=species_colors[k], line=dict(width=0)))
    annotations.append(dict(text=name, xref="paper", yref="paper", x=(11 - 106) / 421,
                            y=1 - (yc - 2) / 438, xanchor="left", yanchor="middle",
                            showarrow=False, font=dict(size=8, color="#333333")))

fig.update_layout(
    width=723, height=562,
    margin=dict(l=106, r=196, t=2, b=122, autoexpand=False),
    plot_bgcolor="white", paper_bgcolor="white",
    font=dict(family="Liberation Sans", size=7, color="#333333"),
    showlegend=False,
    shapes=shapes, annotations=annotations,
    coloraxis=dict(
        colorscale=colorscale, cmin=-3, cmax=3,
        colorbar=dict(title=dict(text="NES", side="top", font=dict(size=8, color="#333333")),
                      x=-0.2518, xanchor="left", y=1 - (251 - 2) / 438, yanchor="top",
                      len=110 / 438, lenmode="fraction", thickness=8, thicknessmode="pixels",
                      xpad=0, ypad=0, outlinewidth=0, ticks="",
                      tickvals=[-3, -2, -1, 0, 1, 2, 3],
                      tickfont=dict(size=7, color="#333333")),
    ),
    xaxis=dict(range=[-0.5, xpos[-1] + 0.5], tickvals=xpos, ticktext=columns, tickangle=-90,
               showgrid=False, zeroline=False, showline=False, ticks="", automargin=False,
               tickfont=dict(size=7, color="#333333")),
    yaxis=dict(range=[ypos[-1] + 0.5, species_y - 0.4], tickvals=[species_y] + ypos,
               ticktext=["Species"] + row_names, side="right", showgrid=False, zeroline=False,
               showline=False, ticks="", ticklabelstandoff=12, automargin=False,
               tickfont=dict(size=7.6, color="#333333")),
)

# quitar el margen por defecto de la pagina para que la figura empiece en 0,0
fig.write_html("out.html", config={"displayModeBar": False},
               post_script="document.body.style.margin='0';")
